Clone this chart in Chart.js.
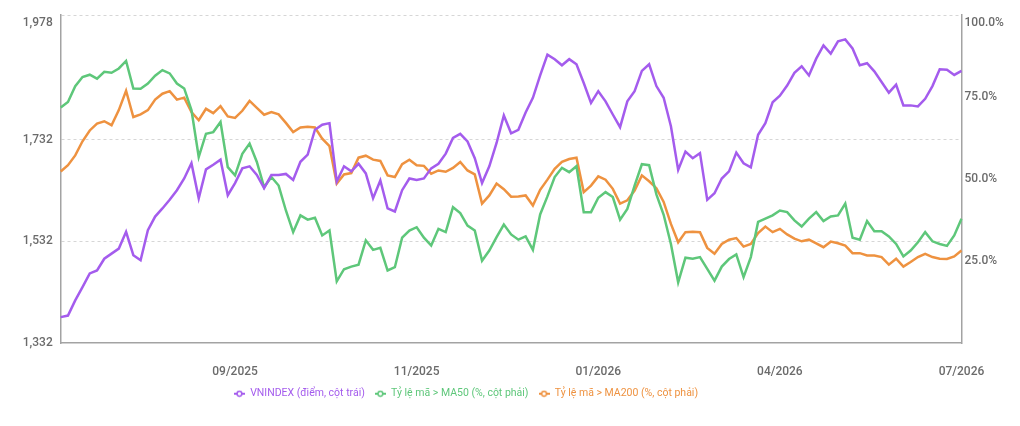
<!DOCTYPE html>
<html>
<head>
<meta charset="utf-8">
<script src="https://cdn.jsdelivr.net/npm/chart.js@4.4.1/dist/chart.umd.min.js"></script>
<style>
  html, body { margin: 0; padding: 0; background: #fff; }
  #wrap { width: 1020px; height: 426px; }
</style>
</head>
<body>
<div id="wrap"><canvas id="vnChart" width="1020" height="426"></canvas></div>
<script>
// month labels shown on the x axis, one every 25 points
const monthLabels = ['09/2025', '11/2025', '01/2026', '04/2026', '07/2026'];
const labelStep = 25;

// VNINDEX (points, left axis)
const vnindex = [
  1383, 1386, 1416, 1442, 1469, 1475, 1498, 1508, 1518, 1551, 1505, 1495, 1554, 1581, 1597, 1614,
  1633, 1656, 1686, 1617, 1674, 1683, 1693, 1623, 1647, 1676, 1680, 1663, 1637, 1663, 1663, 1665,
  1653, 1689, 1703, 1752, 1762, 1765, 1650, 1680, 1670, 1685, 1666, 1617, 1652, 1597, 1591, 1633,
  1656, 1653, 1656, 1676, 1685, 1705, 1736, 1744, 1729, 1696, 1647, 1680, 1726, 1780, 1745,
  1752, 1786, 1815, 1859, 1900, 1891, 1879, 1891, 1881, 1844, 1805, 1828, 1808, 1782, 1757, 1808,
  1828, 1868, 1881, 1838, 1815, 1759, 1673, 1709, 1696, 1706, 1614, 1627, 1656, 1670, 1707,
  1686, 1678, 1742, 1765, 1806, 1819, 1839, 1864, 1877, 1859, 1892, 1918, 1902, 1926, 1930, 1912,
  1879, 1883, 1867, 1846, 1825, 1841, 1800, 1800, 1798, 1813, 1838, 1871, 1870, 1860, 1868
];

// share of stocks above MA50 (%, right axis)
const aboveMa50 = [
  71.8, 73.5, 78.3, 81.1, 81.8, 80.6, 82.7, 82.4, 83.7, 86.0, 77.6, 77.5, 79.1, 81.5, 83.2, 82.2,
  79.1, 77.6, 71.0, 56.7, 63.8, 64.3, 67.4, 53.6, 51.1, 57.7, 60.8, 55.2, 47.5, 50.6, 48.0, 40.4,
  33.8, 38.9, 37.6, 38.2, 32.8, 34.3, 18.8, 22.5, 23.3, 23.9, 31.3, 28.4, 29.0, 22.1, 23.1, 32.1,
  34.3, 35.3, 32.1, 29.7, 34.8, 33.8, 41.4, 39.6, 35.8, 34.3, 25.1, 28.2, 32.3, 36.1, 33.1,
  31.5, 32.5, 28.4, 39.2, 44.7, 50.6, 53.4, 52.1, 53.9, 39.9, 39.9, 44.3, 46.0, 44.5, 37.6, 40.9,
  48.0, 54.5, 54.2, 45.3, 39.1, 30.2, 18.5, 26.0, 25.7, 26.2, 22.6, 19.0, 23.3, 25.6, 27.0,
  20.1, 26.2, 36.9, 37.9, 38.9, 40.4, 39.9, 37.4, 35.5, 37.9, 39.9, 37.2, 38.6, 38.9, 42.5, 32.1,
  31.5, 37.2, 34.1, 34.1, 32.5, 30.2, 26.4, 28.2, 30.7, 33.8, 31.0, 30.2, 29.6, 32.8, 37.9
];

// share of stocks above MA200 (%, right axis)
const aboveMa200 = [
  52.3, 54.2, 57.2, 61.5, 64.8, 66.9, 67.6, 66.4, 71.0, 76.9, 68.9, 69.7, 71.0, 74.2, 76.0, 76.8,
  74.2, 74.8, 70.4, 67.9, 71.4, 70.1, 72.2, 69.1, 68.6, 70.8, 73.8, 71.7, 69.6, 70.4, 69.7, 67.1,
  64.3, 65.7, 65.9, 65.7, 62.3, 60.0, 48.6, 51.4, 51.8, 56.5, 57.1, 55.9, 55.5, 51.1, 50.6, 54.5,
  55.9, 54.2, 54.0, 51.6, 52.6, 52.2, 53.4, 55.2, 52.6, 51.4, 42.5, 45.0, 48.6, 46.9, 44.6,
  44.7, 45.0, 41.9, 46.7, 49.8, 53.1, 55.2, 56.1, 56.5, 46.0, 48.0, 50.8, 49.8, 47.0, 42.5, 43.5,
  46.5, 51.1, 49.3, 47.2, 43.0, 36.3, 30.7, 33.8, 33.9, 33.8, 29.0, 27.2, 30.2, 31.5, 32.0,
  29.4, 30.2, 33.5, 35.5, 33.8, 34.8, 33.1, 31.8, 31.0, 31.5, 30.4, 29.2, 30.9, 30.4, 29.7, 27.4,
  27.4, 26.7, 26.7, 26.2, 23.9, 25.7, 23.3, 24.7, 26.2, 27.2, 26.2, 25.7, 25.6, 26.4, 28.2
];

const leftTicks = [1332, 1532, 1732, 1978];
const rightTicks = [25, 50, 75, 100];

const categories = vnindex.map(function (_, i) {
  return (i + 1) % labelStep === 0 ? monthLabels[(i + 1) / labelStep - 1] : '';
});

const PURPLE = '#a45ced';
const GREEN = '#5ec77a';
const ORANGE = '#ee9240';

// small "-o-" marker for the legend
function legendMarker(color) {
  const c = document.createElement('canvas');
  c.width = 11; c.height = 8;
  const g = c.getContext('2d');
  g.strokeStyle = color;
  g.lineWidth = 2;
  g.beginPath(); g.moveTo(0, 4); g.lineTo(11, 4); g.stroke();
  g.fillStyle = '#fff';
  g.lineWidth = 1.5;
  g.beginPath(); g.arc(5.5, 4, 2.4, 0, Math.PI * 2); g.fill(); g.stroke();
  return c;
}

// legend in the reference sits a bit left of centre
const legendShift = {
  id: 'legendShift',
  afterLayout: function (chart) {
    if (!chart.legend) return;
    chart.legend.left -= 44;
    chart.legend.right -= 44;
  }
};

const tickFont = { family: 'Roboto', size: 12, weight: '500', lineHeight: 1.3 };

// the top label of each y axis is pushed down inside the plot, as in the reference
function topLabel(text, isTop) {
  return isTop ? ['', text] : text;
}

// keep the plot top fixed, whatever the label heights
function noLabelPad(scale) {
  scale.paddingTop = 0;
  scale.paddingBottom = 0;
}

document.addEventListener('DOMContentLoaded', function () {
  const ctx = document.getElementById('vnChart');
  if (!ctx) return;

  const mk = function (label, data, color, axis) {
    return {
      label: label,
      data: data,
      yAxisID: axis,
      borderColor: color,
      backgroundColor: color,
      borderWidth: 2.5,
      pointRadius: 0,
      pointHoverRadius: 3,
      pointStyle: legendMarker(color),
      tension: 0,
      fill: false
    };
  };

  new Chart(ctx, {
    type: 'line',
    data: {
      labels: categories,
      datasets: [
        mk('VNINDEX (điểm, cột trái)', vnindex, PURPLE, 'yLeft'),
        mk('Tỷ lệ mã > MA50 (%, cột phải)', aboveMa50, GREEN, 'yRight'),
        mk('Tỷ lệ mã > MA200 (%, cột phải)', aboveMa200, ORANGE, 'yRight')
      ]
    },
    options: {
      responsive: false,
      animation: false,
      layout: { padding: { top: 15, bottom: 17, left: 0, right: 0 } },
      interaction: { mode: 'index', intersect: false },
      scales: {
        x: {
          grid: { display: false },
          border: { display: true, color: '#a3a3a3', width: 1.5 },
          ticks: {
            autoSkip: false,
            maxRotation: 0,
            padding: 13,
            color: '#6b6b6b',
            font: tickFont,
            callback: function (v, i) { return categories[i]; }
          },
          afterFit: function (scale) { scale.height = 35.5; }
        },
        yLeft: {
          position: 'left',
          min: 1332,
          max: 1978,
          afterBuildTicks: function (scale) {
            scale.ticks = leftTicks.map(function (v) { return { value: v }; });
          },
          afterFit: function (scale) { scale.width = 60.7; noLabelPad(scale); },
          grid: {
            drawTicks: false,
            lineWidth: 1,
            color: function (c) { return c.tick && c.tick.value === 1332 ? 'rgba(0,0,0,0)' : '#d6d6d6'; }
          },
          border: { display: true, color: '#a3a3a3', width: 1.5, dash: [3, 3] },
          ticks: {
            padding: 8,
            color: '#6b6b6b',
            font: tickFont,
            callback: function (v, i, all) {
              return topLabel(v.toLocaleString('en-US'), i === all.length - 1);
            }
          }
        },
        yRight: {
          position: 'right',
          min: 0,
          max: 100,
          afterBuildTicks: function (scale) {
            scale.ticks = rightTicks.map(function (v) { return { value: v }; });
          },
          afterFit: function (scale) { scale.width = 58.5; noLabelPad(scale); },
          grid: { display: false, drawTicks: false },
          border: { display: true, color: '#a3a3a3', width: 1.5 },
          ticks: {
            padding: 3,
            color: '#6b6b6b',
            font: tickFont,
            callback: function (v, i, all) {
              return topLabel(v.toFixed(1) + '%', i === all.length - 1);
            }
          }
        }
      },
      plugins: {
        legend: {
          position: 'bottom',
          labels: {
            usePointStyle: true,
            pointStyleWidth: 11,
            padding: 10,
            font: { family: 'Roboto', size: 10.5 },
            generateLabels: function (chart) {
              const items = Chart.defaults.plugins.legend.labels.generateLabels(chart);
              items.forEach(function (it) {
                it.fontColor = chart.data.datasets[it.datasetIndex].borderColor;
              });
              return items;
            }
          }
        },
        tooltip: { enabled: true }
      }
    },
    plugins: [legendShift]
  });
});
</script>
</body>
</html>
